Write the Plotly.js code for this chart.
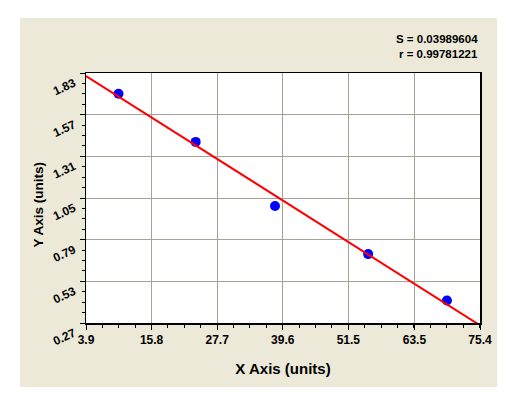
<!DOCTYPE html>
<html>
<head>
<meta charset="utf-8">
<script src="https://cdn.plot.ly/plotly-3.0.1.min.js"></script>
<style>
  html, body { margin: 0; padding: 0; background: #ffffff; width: 522px; height: 401px; overflow: hidden; }
  #chart { position: absolute; left: 20px; top: 18px; width: 477px; height: 369px; }
</style>
</head>
<body>
<div id="chart"></div>
<script>
// Data
const xValues = [9.8, 23.8, 38.2, 55.1, 69.4];
const yValues = [1.70, 1.40, 1.00, 0.70, 0.41];

const xTickVals = [3.9, 15.8, 27.7, 39.6, 51.5, 63.5, 75.4];
const xTickText = ["3.9", "15.8", "27.7", "39.6", "51.5", "63.5", "75.4"];
const yTickVals = [0.27, 0.53, 0.79, 1.05, 1.31, 1.57, 1.83];
const yTickText = ["0.27", "0.53", "0.79", "1.05", "1.31", "1.57", "1.83"];

const statLines = ["S = 0.03989604", "r = 0.99781221"];
const xTitle = "X Axis (units)";
const yTitle = "Y Axis (units)";

// Least-squares line through the points
const n = xValues.length;
const mx = xValues.reduce((a, b) => a + b, 0) / n;
const my = yValues.reduce((a, b) => a + b, 0) / n;
let sxy = 0, sxx = 0;
for (let i = 0; i < n; i++) {
  sxy += (xValues[i] - mx) * (yValues[i] - my);
  sxx += (xValues[i] - mx) * (xValues[i] - mx);
}
const slope = sxy / sxx;
const intercept = my - slope * mx;
const xRange = [xTickVals[0], xTickVals[xTickVals.length - 1]];
const yRange = [yTickVals[0], yTickVals[yTickVals.length - 1]];
const fitX = xRange.slice();
const fitY = fitX.map(x => intercept + slope * x);

const font = "Arial, 'Liberation Sans', sans-serif";

const traces = [
  {
    x: xValues, y: yValues, type: "scatter", mode: "markers",
    marker: { color: "#0000ff", size: 10, symbol: "circle" },
    hoverinfo: "skip", cliponaxis: false
  },
  {
    x: fitX, y: fitY, type: "scatter", mode: "lines",
    line: { color: "#ff0000", width: 2 },
    hoverinfo: "skip"
  }
];

const axisCommon = {
  showline: true, mirror: true, linecolor: "#000000", linewidth: 1.5,
  showgrid: true, gridcolor: "#a6a298", gridwidth: 1,
  zeroline: false, ticks: "outside", ticklen: 5, tickwidth: 1, tickcolor: "#000000",
  tickfont: { family: font, size: 12, color: "#000000", weight: "bold" },
  tickmode: "array", automargin: false
};

const layout = {
  width: 477, height: 369,
  paper_bgcolor: "#ece9d8", plot_bgcolor: "#ffffff",
  margin: { l: 66, r: 17, t: 55, b: 64 },
  showlegend: false,
  xaxis: Object.assign({}, axisCommon, {
    range: xRange, tickvals: xTickVals, ticktext: xTickText, tickangle: 0,
    minor: { dtick: (xTickVals[1] - xTickVals[0]) / 4, tick0: xTickVals[0], ticks: "outside", ticklen: 3, tickcolor: "#000000", showgrid: false },
    title: { text: xTitle, font: { family: font, size: 15, color: "#000000", weight: "bold" }, standoff: 17 }
  }),
  yaxis: Object.assign({}, axisCommon, {
    range: yRange, tickvals: yTickVals, ticktext: yTickText, tickangle: -25,
    ticklabelshift: 9, ticklabelstandoff: 3,
    minor: { dtick: (yTickVals[1] - yTickVals[0]) / 4, tick0: yTickVals[0], ticks: "outside", ticklen: 3, tickcolor: "#000000", showgrid: false }
  }),
  annotations: [
    { text: yTitle, xref: "paper", yref: "paper", x: -0.1206, y: 0.476, xanchor: "center", yanchor: "middle",
      textangle: -90, showarrow: false,
      font: { family: font, size: 13.5, color: "#000000", weight: "bold" } },
    { text: statLines[0], xref: "paper", yref: "paper", x: 1, y: 1.136, xanchor: "right", yanchor: "middle", showarrow: false,
      font: { family: font, size: 11.5, color: "#000000", weight: "bold" } },
    { text: statLines[1], xref: "paper", yref: "paper", x: 1, y: 1.076, xanchor: "right", yanchor: "middle", showarrow: false,
      font: { family: font, size: 11.5, color: "#000000", weight: "bold" } }
  ]
};

Plotly.newPlot("chart", traces, layout, { staticPlot: true, displayModeBar: false });
</script>
</body>
</html>
